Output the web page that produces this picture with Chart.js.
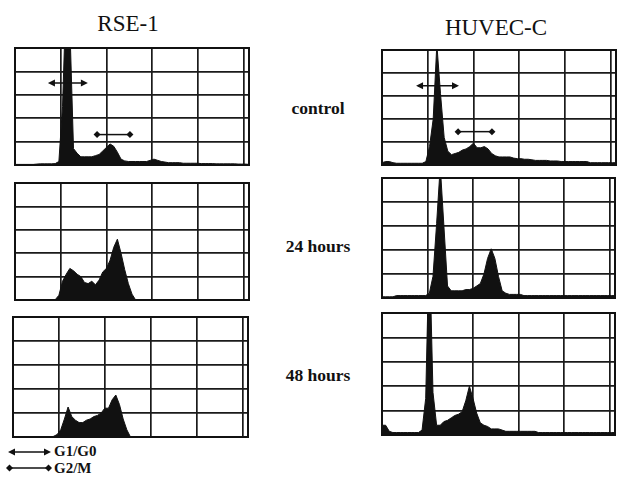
<!DOCTYPE html>
<html>
<head>
<meta charset="utf-8">
<script src="https://cdn.jsdelivr.net/npm/chart.js@4/dist/chart.umd.min.js"></script>
<style>
    body { margin: 0; background: #fff; }
    #fig { position: relative; width: 617px; height: 480px; overflow: hidden; background: #fff; }
    #fig canvas { position: absolute; }
    .lbl { position: absolute; font-family: "Liberation Serif", "DejaVu Serif", serif; line-height: 1; white-space: nowrap; color: #111; }
    .title { font-size: 23px; transform: translateX(-50%); }
    .row { font-size: 17.5px; font-weight: bold; transform: translateX(-50%); }
    .leg { font-size: 15px; font-weight: bold; }
    #legendSvg { position: absolute; left: 0; top: 440px; }
</style>
</head>
<body>
<div id="fig">
    <div class="lbl title" style="left:128px; top:12px;">RSE-1</div>
    <div class="lbl title" style="left:496px; top:16px;">HUVEC-C</div>
    <div class="lbl row" style="left:318px; top:100px;">control</div>
    <div class="lbl row" style="left:318px; top:238px;">24 hours</div>
    <div class="lbl row" style="left:318px; top:367px;">48 hours</div>

    <canvas id="rseControl" width="240" height="123" style="left:12px; top:45px;"></canvas>
    <canvas id="rse24" width="240" height="123" style="left:12px; top:180px;"></canvas>
    <canvas id="rse48" width="241" height="126" style="left:10px; top:314px;"></canvas>
    <canvas id="huvecControl" width="240" height="121" style="left:379px; top:47px;"></canvas>
    <canvas id="huvec24" width="239" height="126" style="left:379px; top:175px;"></canvas>
    <canvas id="huvec48" width="239" height="128" style="left:379px; top:310px;"></canvas>

    <svg id="legendSvg" width="60" height="40">
        <line x1="10" y1="12" x2="48" y2="12" stroke="#111" stroke-width="1.5"/>
        <polygon points="8,12 15,8.5 15,15.5" fill="#111"/>
        <polygon points="51,12 44,8.5 44,15.5" fill="#111"/>
        <line x1="10" y1="28" x2="48" y2="28" stroke="#111" stroke-width="1.5"/>
        <polygon points="6,28 9.5,24.5 13,28 9.5,31.5" fill="#111"/>
        <polygon points="45,28 48.5,24.5 52,28 48.5,31.5" fill="#111"/>
    </svg>
    <div class="lbl leg" style="left:54px; top:444px;">G1/G0</div>
    <div class="lbl leg" style="left:54px; top:461px;">G2/M</div>
</div>

<script>
// DNA content channels (0..1024), bins of 16
const channels = [0, 16, 32, 48, 64, 80, 96, 112, 128, 144, 160, 176, 192, 208, 224, 240,
    256, 272, 288, 304, 320, 336, 352, 368, 384, 400, 416, 432, 448, 464, 480, 496,
    512, 528, 544, 560, 576, 592, 608, 624, 640, 656, 672, 688, 704, 720, 736, 752,
    768, 784, 800, 816, 832, 848, 864, 880, 896, 912, 928, 944, 960, 976, 992, 1008, 1024];

// grid positions on the channel axis (last strip is the 1000..1024 overflow)
const channelGrid = [0, 200, 400, 600, 800, 1000, 1024];

// cell counts (% of full scale), values above 100 run off the top
const rseControlCounts = [0.5, 0.5, 0.5, 0.5, 0.5, 0.5, 0.8, 1, 1, 1,
    1, 1.2, 3, 50, 150, 120, 14, 10, 7, 7,
    7, 7, 8, 9, 12, 15, 18, 16, 11, 5,
    3.5, 3, 3, 3, 3, 3, 3, 4, 5, 4,
    3, 2.5, 2, 2, 2, 2, 1.5, 1.5, 1.5, 1.5,
    1.5, 1.2, 1.2, 1.2, 1.2, 1, 1, 1, 1, 1,
    1, 0.8, 0.8, 0.8, 0.5];

const rse24Counts = [0, 0, 0, 0, 0, 0, 0, 0, 0, 0,
    0, 0.3, 4, 16, 22, 27, 25, 22, 20, 15,
    14, 16, 13, 17, 24, 27, 34, 45, 52, 40,
    26, 14, 5, 0, 0, 0, 0, 0, 0, 0,
    0, 0, 0, 0, 0, 0, 0, 0, 0, 0,
    0, 0, 0, 0, 0, 0, 0, 0, 0, 0,
    0, 0, 0, 0, 0];

const rse48Counts = [0, 0, 0, 0, 0, 0, 0, 0, 0, 0,
    0, 0.5, 2, 6, 15, 25, 17, 14, 12, 12,
    14, 15, 17, 18, 20, 24, 24, 31, 35, 27,
    15, 6, 0, 0, 0, 0, 0, 0, 0, 0,
    0, 0, 0, 0, 0, 0, 0, 0, 0, 0,
    0, 0, 0, 0, 0, 0, 0, 0, 0, 0,
    0, 0, 0, 0, 0];

const huvecControlCounts = [2, 3, 3, 2, 1.5, 1.5, 1.5, 1.5, 1.5, 1.5,
    1.5, 1.5, 3, 16, 40, 105, 62, 24, 12, 9,
    10, 11, 13, 14, 16, 19, 15, 15, 16, 14,
    10, 8, 7, 7, 7, 7, 6, 5.5, 5.5, 5,
    5, 4.5, 4, 4, 4, 4, 3.5, 3.5, 3.5, 3,
    3, 3, 3, 3, 3, 3, 3, 2, 2, 2,
    2, 2, 2, 2, 2];

const huvec24Counts = [1, 1, 1, 1, 2, 2, 2, 2, 2, 2,
    2, 2, 2, 4, 18, 62, 110, 60, 10, 6,
    6, 6, 6, 7, 7, 8, 10, 12, 20, 33,
    41, 33, 18, 6, 4, 3, 3, 3, 3, 2,
    2, 2, 2, 2, 2, 2, 2, 2, 2, 2,
    2, 2, 2, 2, 2, 2, 2, 2, 2, 2,
    2, 2, 2, 2, 2];

const huvec48Counts = [8, 8, 3, 2, 2, 2, 2, 2, 2, 2,
    2, 4, 30, 160, 35, 8, 8, 11, 12, 14,
    16, 17, 19, 28, 40, 30, 18, 10, 8, 7,
    5, 5, 5, 4, 3, 3, 3, 3, 3, 3,
    3, 3, 3, 2, 2, 2, 2, 2, 2, 2,
    2, 2, 2, 2, 2, 2, 2, 2, 2, 2,
    2, 2, 2, 2, 2];

// gate ranges (channels) shown on the control panels
const rseG1Gate = [144, 319];
const rseG2Gate = [359, 503];
const huvecG1Gate = [149, 337];
const huvecG2Gate = [333, 481];

const INK = '#111';

// frame around the plot + gate markers
const framePlugin = {
    id: 'frame',
    afterDatasetsDraw(chart, args, opts) {
        const { ctx, chartArea: a, scales } = chart;
        ctx.save();
        ctx.strokeStyle = INK;
        ctx.fillStyle = INK;

        (opts.gates || []).forEach(g => {
            const x1 = scales.x.getPixelForValue(g.range[0]);
            const x2 = scales.x.getPixelForValue(g.range[1]);
            const y = scales.y.getPixelForValue(g.level);
            ctx.lineWidth = 1.5;
            ctx.beginPath();
            ctx.moveTo(x1 + 2, y);
            ctx.lineTo(x2 - 2, y);
            ctx.stroke();
            if (g.type === 'arrow') {
                ctx.beginPath();
                ctx.moveTo(x1, y); ctx.lineTo(x1 + 7, y - 3.5); ctx.lineTo(x1 + 7, y + 3.5);
                ctx.closePath(); ctx.fill();
                ctx.beginPath();
                ctx.moveTo(x2, y); ctx.lineTo(x2 - 7, y - 3.5); ctx.lineTo(x2 - 7, y + 3.5);
                ctx.closePath(); ctx.fill();
            } else {
                [x1, x2].forEach(x => {
                    ctx.beginPath();
                    ctx.moveTo(x - 3.5, y); ctx.lineTo(x, y - 3.5); ctx.lineTo(x + 3.5, y); ctx.lineTo(x, y + 3.5);
                    ctx.closePath(); ctx.fill();
                });
            }
        });

        ctx.lineWidth = 2;
        ctx.strokeRect(a.left, a.top, a.right - a.left, a.bottom - a.top);
        ctx.restore();
    }
};

function histogramInit(canvasId, counts, gates) {
    const ctx = document.getElementById(canvasId).getContext('2d');
    const points = channels.map((c, i) => ({ x: c, y: counts[i] }));

    return new Chart(ctx, {
        type: 'line',
        data: {
            datasets: [{
                data: points,
                borderColor: INK,
                borderWidth: 1,
                backgroundColor: INK,
                fill: 'origin',
                pointRadius: 0,
                tension: 0
            }]
        },
        options: {
            responsive: false,
            animation: false,
            layout: { padding: 3 },
            scales: {
                x: {
                    type: 'linear', min: 0, max: 1024,
                    ticks: { display: false },
                    afterBuildTicks: scale => { scale.ticks = channelGrid.map(v => ({ value: v })); },
                    grid: { color: '#1a1a1a', lineWidth: 1.7, drawTicks: false },
                    border: { display: false }
                },
                y: {
                    min: 0, max: 100,
                    ticks: { display: false, stepSize: 20 },
                    grid: { color: '#1a1a1a', lineWidth: 1.7, drawTicks: false },
                    border: { display: false }
                }
            },
            plugins: {
                legend: { display: false },
                tooltip: { enabled: false },
                frame: { gates: gates }
            }
        },
        plugins: [framePlugin]
    });
}

histogramInit('rseControl', rseControlCounts, [
    { range: rseG1Gate, level: 70, type: 'arrow' },
    { range: rseG2Gate, level: 26, type: 'diamond' }
]);
histogramInit('rse24', rse24Counts, []);
histogramInit('rse48', rse48Counts, []);
histogramInit('huvecControl', huvecControlCounts, [
    { range: huvecG1Gate, level: 69, type: 'arrow' },
    { range: huvecG2Gate, level: 29, type: 'diamond' }
]);
histogramInit('huvec24', huvec24Counts, []);
histogramInit('huvec48', huvec48Counts, []);
</script>
</body>
</html>
